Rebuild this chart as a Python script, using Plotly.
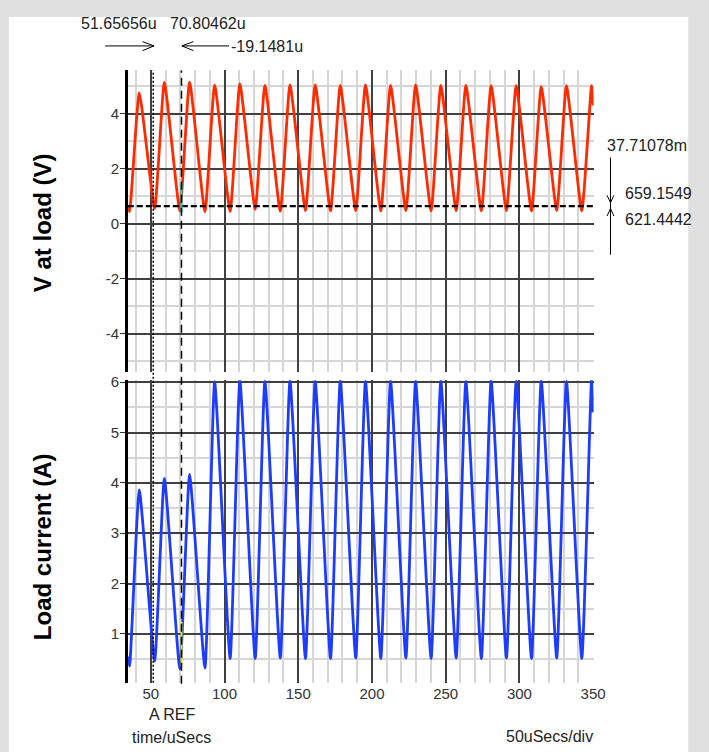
import plotly.graph_objects as go

W, H = 709, 752

# ---------------- data ----------------
x_start, x_end = 34.4, 350.0

trough_t = [35.6, 52.6, 69.7, 86.7, 103.8, 120.8, 137.8, 154.9, 171.9, 189.0,
            206.0, 223.0, 240.1, 257.1, 274.2, 291.2, 308.2, 325.3, 342.3]
peak_t = [42.2, 59.2, 76.3, 93.3, 110.4, 127.4, 144.4, 161.5, 178.5, 195.6,
          212.6, 229.6, 246.7, 263.7, 280.8, 297.8, 314.8, 331.9, 348.9]

v_start, v_end = 0.62, 4.3
v_trough = [0.44, 0.56, 0.47, 0.44, 0.45, 0.53, 0.46, 0.48, 0.47, 0.48,
            0.47, 0.48, 0.47, 0.48, 0.47, 0.48, 0.47, 0.48, 0.47]
v_peak = [4.76, 5.14, 5.15, 5.04, 5.08, 5.03, 5.05, 5.05, 5.03, 5.05,
          5.03, 5.05, 5.03, 5.03, 5.02, 5.02, 4.98, 5.02, 5.02]

i_start, i_end = 0.55, 5.4
i_trough = [0.36, 0.46, 0.30, 0.32, 0.51, 0.51, 0.52, 0.51, 0.51, 0.52,
            0.51, 0.52, 0.51, 0.52, 0.51, 0.52, 0.51, 0.52, 0.51]
i_peak = [3.86, 4.09, 4.17, 6.01, 6.03, 6.02, 6.03, 6.02, 6.03, 6.02,
          6.03, 6.02, 6.03, 6.02, 6.03, 6.02, 6.03, 6.02, 6.03]

cursor_a = 51.65656
cursor_b = 70.80462
level_a = 0.6591549
level_b = 0.6214442

hl_v = [0.41, 1.5]      # cyan highlight on V trace at cursor B
hl_i = [0.36, 1.24]     # yellow highlight on I trace at cursor B

x_ticks = [50, 100, 150, 200, 250, 300, 350]
v_ticks = [-4, -2, 0, 2, 4]
i_ticks = [1, 2, 3, 4, 5, 6]

# ---------------- build series from read points ----------------
def merge(start, troughs, peaks, end):
    t, v = [x_start], [start]
    for tt, tv, pt, pv in zip(trough_t, troughs, peak_t, peaks):
        t += [tt, pt]
        v += [tv, pv]
    t.append(x_end)
    v.append(end)
    return t, v

vt, vv = merge(v_start, v_trough, v_peak, v_end)
it, iv = merge(i_start, i_trough, i_peak, i_end)

def px(p):
    return p / W

def py(p):
    return 1 - p / H

RED = "#ff2a00"
BLUE = "#1e3cff"
MAJ = "#404040"
MIN = "#d6d6d6"
FONT = "Liberation Sans, Arial, sans-serif"

fig = go.Figure()
line_shape = dict(shape="spline", smoothing=0.45)

fig.add_trace(go.Scatter(x=vt, y=vv, mode="lines", xaxis="x", yaxis="y",
                         line=dict(color=RED, width=2.8, **line_shape), hoverinfo="skip"))
fig.add_trace(go.Scatter(x=[x_start, x_end], y=[level_a, level_a], mode="lines",
                         xaxis="x", yaxis="y", line=dict(color="black", width=1.2, dash="6px,3px")))
fig.add_trace(go.Scatter(x=[x_start, x_end], y=[level_b, level_b], mode="lines",
                         xaxis="x", yaxis="y", line=dict(color="black", width=1.2, dash="6px,3px")))
fig.add_trace(go.Scatter(x=[cursor_b, cursor_b], y=hl_v, mode="lines", xaxis="x", yaxis="y",
                         line=dict(color="#00d8d8", width=2)))

fig.add_trace(go.Scatter(x=it, y=iv, mode="lines", xaxis="x2", yaxis="y2",
                         line=dict(color=BLUE, width=2.8, **line_shape), hoverinfo="skip"))
fig.add_trace(go.Scatter(x=[cursor_b, cursor_b], y=hl_i, mode="lines", xaxis="x2", yaxis="y2",
                         line=dict(color="#e8e800", width=2)))

xdom = [px(130), px(603.8)]
xr = [34.4, 350.3]
common_x = dict(domain=xdom, range=xr, tickmode="array", tickvals=x_ticks,
                showgrid=True, gridcolor=MAJ, gridwidth=1.6, zeroline=False,
                showline=False, ticks="",
                minor=dict(tickmode="linear", tick0=0, dtick=10, showgrid=True,
                           gridcolor=MIN, gridwidth=2),
                tickfont=dict(family=FONT, size=15, color="#333"))

common_y = dict(tickmode="array", showgrid=True, gridcolor=MAJ, gridwidth=1.6,
                zeroline=False, showline=True, linecolor="black", linewidth=2.6,
                ticks="outside", ticklen=5, tickcolor="#333", tickwidth=1,
                ticklabelstandoff=-2,
                tickfont=dict(family=FONT, size=15, color="#333"))

fig.update_layout(
    width=W, height=H, autosize=False,
    margin=dict(l=0, r=0, t=0, b=0),
    paper_bgcolor="#e0e0e0", plot_bgcolor="white",
    showlegend=False,
    xaxis=dict(anchor="y", showticklabels=False, **common_x),
    xaxis2=dict(anchor="y2", showticklabels=True, **common_x),
    yaxis=dict(domain=[py(368.3), py(63.3)], range=[-5.38, 5.6], anchor="x",
               tickvals=v_ticks, ticktext=[str(v) for v in v_ticks],
               minor=dict(tickmode="linear", tick0=0, dtick=1, showgrid=True,
                          gridcolor=MIN, gridwidth=2),
               **common_y),
    yaxis2=dict(domain=[py(682), py(376.7)], range=[0.03, 6.04], anchor="x2",
                tickvals=i_ticks, ticktext=[str(v) for v in i_ticks],
                minor=dict(tickmode="linear", tick0=0, dtick=0.5, showgrid=True,
                           gridcolor=MIN, gridwidth=2),
                **common_y),
)

shapes = [
    dict(type="rect", xref="paper", yref="paper", x0=px(9), x1=px(700), y0=0, y1=py(10),
         fillcolor="white", line=dict(width=0), layer="below"),
    dict(type="line", xref="x", yref="paper", x0=cursor_a, x1=cursor_a, y0=py(682), y1=py(64),
         line=dict(color="black", width=1.5, dash="2px,2px")),
    dict(type="line", xref="x", yref="paper", x0=cursor_b, x1=cursor_b, y0=py(683), y1=py(64),
         line=dict(color="black", width=1.5, dash="8px,5px")),
]

def seg(x0, y0, x1, y1):
    return dict(type="line", xref="paper", yref="paper", x0=px(x0), y0=py(y0),
                x1=px(x1), y1=py(y1), line=dict(color="black", width=1))

# top arrows
shapes += [seg(107, 39.3, 156.7, 39.3), seg(145, 35, 156.7, 39.3), seg(145, 44, 156.7, 39.3)]
shapes += [seg(185, 39.3, 233, 39.3), seg(196.7, 35, 185, 39.3), seg(196.7, 44, 185, 39.3)]
# right measurement
shapes += [seg(621, 152, 621, 250),
           seg(617.5, 190, 621, 197.5), seg(624.5, 190, 621, 197.5),
           seg(617.5, 211, 621, 203.5), seg(624.5, 211, 621, 203.5)]
fig.update_layout(shapes=shapes)

def txt(text, x, y, size=16, xanchor="left", angle=0, color="#222"):
    return dict(text=text, x=px(x), y=py(y), xref="paper", yref="paper",
                xanchor=xanchor, yanchor="middle", showarrow=False, textangle=angle,
                font=dict(family=FONT, size=size, color=color))

ann = [
    txt("51.65656u", 80, 17),
    txt("70.80462u", 171, 17),
    txt("-19.1481u", 233, 40),
    txt("37.71078m", 615, 140),
    txt("659.1549", 634, 188),
    txt("621.4442", 634, 215),
    txt("A REF", 175, 714, size=16, xanchor="center"),
    txt("time/uSecs", 174, 737, size=16, xanchor="center"),
    txt("50uSecs/div", 559, 736, size=16, xanchor="center"),
    txt("<b>V at load (V)</b>", 44, 218, size=24, xanchor="center", angle=-90, color="black"),
    txt("<b>Load current (A)</b>", 44, 545, size=24, xanchor="center", angle=-90, color="black"),
]
fig.update_layout(annotations=ann)

fig.write_html("out.html", config={"displayModeBar": False},
               post_script="document.body.style.margin='0px';document.body.style.overflow='hidden';")
